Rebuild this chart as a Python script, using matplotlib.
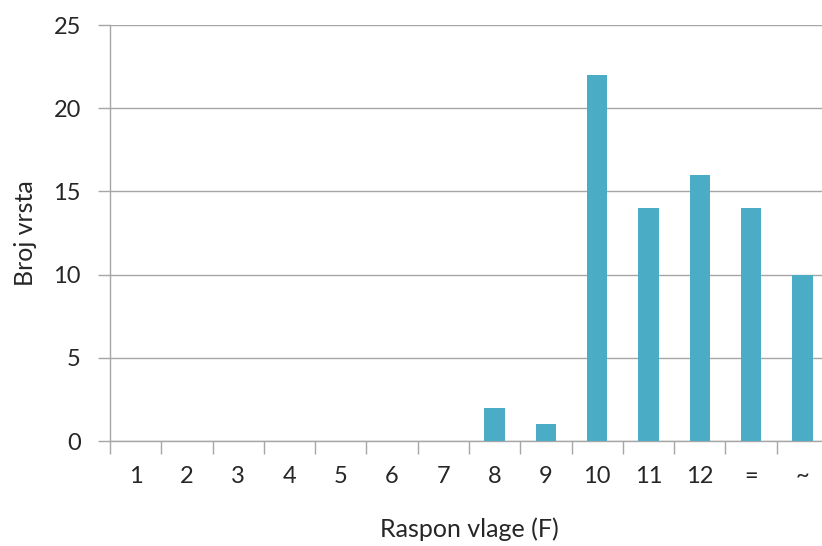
import numpy as np
import matplotlib.pyplot as plt

categories = ['1', '2', '3', '4', '5', '6', '7', '8', '9', '10', '11', '12', '=', '~']
counts = [0, 0, 0, 0, 0, 0, 0, 2, 1, 22, 14, 16, 14, 10]

bar_color = '#4BACC6'
grid_color = '#A6A6A6'
text_color = '#262626'

plt.rcParams['font.family'] = ['Lato', 'DejaVu Sans']

fig = plt.figure(figsize=(8.22, 5.46), dpi=100)
# axes box in pixels: left 110, right ~828, top 25, bottom 441
W, H = 822, 546
ax = fig.add_axes([110 / W, (H - 441) / H, (828 - 110) / W, (441 - 25) / H])

x = np.arange(len(categories))
ax.bar(x, counts, width=0.4, color=bar_color, zorder=3)

ax.set_xlim(-0.5, len(categories) - 0.5)
ax.set_ylim(0, 25)
ax.set_yticks(range(0, 26, 5))
ax.yaxis.grid(True, color=grid_color, linewidth=1.0, zorder=0)

# category labels centred, tick marks on category boundaries
ax.set_xticks(x)
ax.set_xticklabels(categories)
ax.set_xticks(np.arange(-0.5, len(categories), 1), minor=True)
ax.tick_params(axis='x', which='major', length=0, pad=18, labelsize=17, labelcolor=text_color)
ax.tick_params(axis='x', which='minor', length=9, width=1, color=grid_color)
ax.tick_params(axis='y', length=9, width=1, color=grid_color, pad=12, labelsize=17, labelcolor=text_color)

for side in ['top', 'right']:
    ax.spines[side].set_visible(False)
for side in ['left', 'bottom']:
    ax.spines[side].set_color(grid_color)
    ax.spines[side].set_linewidth(1.0)

ax.set_xlabel('Raspon vlage (F)', fontsize=18, color=text_color, labelpad=22)
ax.set_ylabel('Broj vrsta', fontsize=18, color=text_color, labelpad=12)

fig.savefig('out.png', dpi=100)
